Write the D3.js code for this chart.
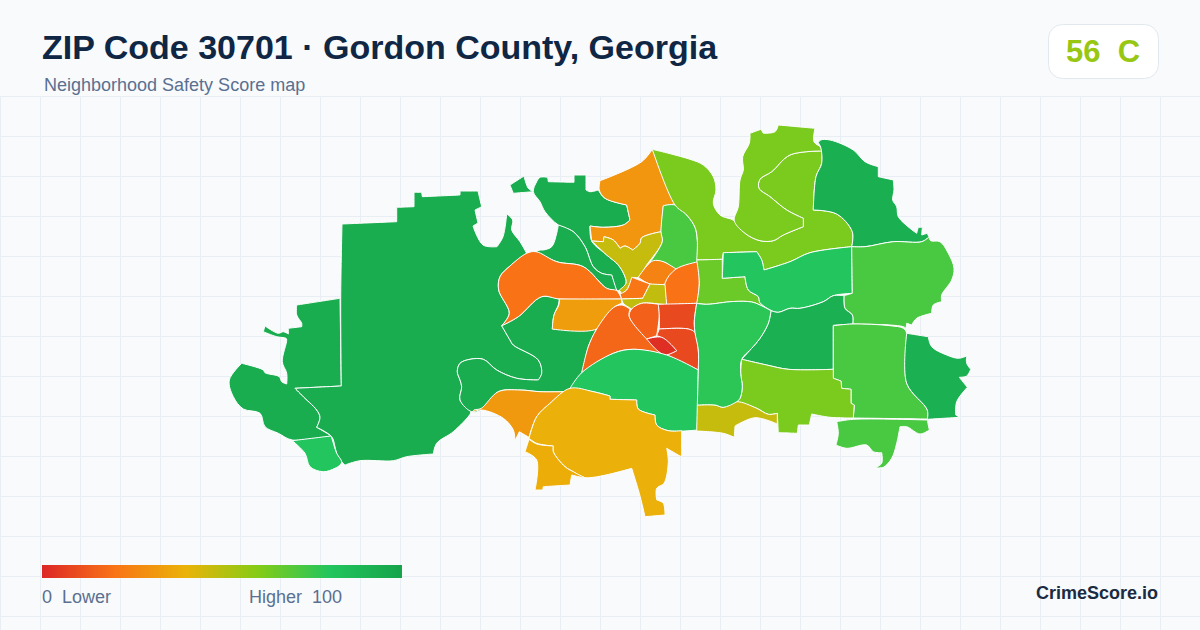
<!DOCTYPE html>
<html><head><meta charset="utf-8">
<script src="https://cdn.jsdelivr.net/npm/d3@7/dist/d3.min.js"></script>
<style>html,body{margin:0;padding:0;background:#f8fafc}svg{display:block}text{font-family:"Liberation Sans",Arial,sans-serif}</style>
</head><body><svg id="c" width="1200" height="630"></svg>
<script>
const scoreStops=[0,20,40,60,80,100];
const scoreColors=["#dc2626","#f97316","#eab308","#84cc16","#22c55e","#16a34a"];
const overallScore=56, overallGrade="C";
const titleText="ZIP Code 30701 · Gordon County, Georgia";
const subtitleText="Neighborhood Safety Score map";
const legendLabels=["0  Lower","Higher  100"];
const brandText="CrimeScore.io";

const ringW1=[[296.7,305],[340,298.3],[341.3,386],[295,388.3],[305,398.3],[316.7,410],[320,417.3],[316.7,427.3],[331.7,436],[292.3,440],[278.3,433.3],[265,426.7],[260,413.3],[243.3,409],[233.3,396.7],[229.3,380],[241.7,363.3],[263.3,370],[265,372.7],[279.3,376.7],[281.7,381.7],[286.7,384],[286.7,373.3],[282.3,361.7],[286.7,340],[286,338.3],[276.7,336.7],[263.3,331.7],[265,326],[278.3,333.3],[283.3,331.7],[288.3,334],[288.3,328.3],[301.7,326.7],[301.7,323.3],[296.7,315]];
const ringW2=[[342,224],[396.7,221.7],[396.7,207.3],[414,206.7],[414,192.3],[421.7,192.3],[422.3,196.7],[460,195],[460,191],[478,191],[481.7,206.7],[475,210],[478,223],[473,226],[483,245],[497,246.7],[503,236.7],[506.7,214],[512.7,220],[511.7,230],[520,241.7],[526.7,253.3],[510,266],[500,276.7],[498.7,290],[509.3,313.3],[501.7,325.7],[510,340],[513.3,345],[538.3,360],[541.7,373.3],[538.3,380],[516.7,378.3],[496.7,370],[483.3,359.3],[470,359.3],[460,363.3],[457.3,371.7],[460,380],[461.7,386.7],[460,400],[471,411],[470,414.3],[453.3,431.7],[436.7,443.3],[433.3,454],[406.7,456.7],[393.3,460.7],[360,460.7],[345,465],[341.7,461.7],[336.7,453.3],[335,446.7],[331.7,436.7],[316.7,427.3],[320,417.3],[316.7,410],[305,398.3],[295,388.3],[341.3,386],[340.7,298.3]];
const ringW3=[[501.7,325.7],[518.3,316.7],[541.7,296.7],[559.3,299.3],[558.3,305],[554,315],[552.3,329],[596.7,329],[588.3,346.7],[581.7,372.7],[570,388.3],[565,391.7],[563.3,391.7],[540,391.7],[520,390],[498.3,391.7],[481.7,410],[471.7,411.7],[460,400],[461.7,386.7],[460,380],[457.3,371.7],[460,363.3],[470,359.3],[483.3,359.3],[496.7,370],[516.7,378.3],[538.3,380],[541.7,373.3],[538.3,360],[513.3,345],[510,340]];
const ringS1=[[292.3,440.7],[330.7,436],[331.7,438],[336.7,453.3],[341.7,461.7],[340,465],[335,468.3],[323.3,471.7],[310,466.7],[305,453.3]];
const ringN0=[[510,185],[524,176],[528.3,188.3],[533.3,191.7],[513.3,193.3]];
const ringN1=[[533.3,191.7],[536.7,181.7],[540,177.3],[547.7,177.3],[548.3,181.7],[574,182.3],[574,175],[586,175],[586,190],[590,191.7],[598.3,190],[599.3,191.7],[605,198.3],[626.7,205],[630,220],[623.3,225],[603.3,227.3],[590,226],[591.7,241],[606.7,255],[618.3,265],[625,276.7],[626,283.3],[620,290.7],[616.7,290],[611.7,275],[601.7,273.3],[593.3,266.7],[585,246.7],[573.3,231.7],[558.3,225],[545,211.7],[540,201.7]];
const ringN2=[[558.3,225],[573.3,231.7],[585,246.7],[593.3,266.7],[601.7,273.3],[611.7,275],[616.7,290.7],[606.7,288.3],[583.3,266.7],[556.7,261.7],[536,251.7],[540,250],[543.3,250],[551.7,246.7],[556.7,233.3]];
const ringO1=[[536,251.7],[556.7,261.7],[583.3,266.7],[606.7,288.3],[616.7,290.7],[621.7,299],[560,299],[541.7,296.7],[518.3,316.7],[501.7,325.7],[509.3,313.3],[498.7,290],[500,276.7],[510,266],[526.7,253.3]];
const ringA1=[[559.5,299],[621.7,299],[621.7,303.3],[613.3,307.7],[596.7,329],[552.3,329],[554,315],[558.8,305]];
const ringT1=[[652.3,149.3],[675,204],[663.3,205.7],[661,231.7],[641.7,237.7],[640,243.3],[632.7,250],[625,246],[620,248.3],[613.3,240],[604,236.7],[603.3,241.7],[591.7,241],[590,226],[603.3,227.3],[623.3,225],[630,220],[626.7,205],[605,198.3],[599.3,190],[600,180.7],[641.7,161.7]];
const ringOl1=[[591.7,241],[603.3,241.7],[604,236.7],[613.3,240],[620,248.3],[625,246],[632.7,250],[640,243.3],[641.7,237.7],[661,231.7],[662.3,241.7],[646.7,265],[638.3,277.3],[632.7,277.3],[626.7,290],[621.7,294],[619.3,290],[626,283.3],[625,276.7],[618.3,265],[606.7,255]];
const ringG1=[[663.3,205.7],[675,205],[686.7,215],[695,227.3],[697.3,240],[698.3,261.7],[688.3,266.7],[676,269],[663.3,261.7],[653.3,261.7],[646.7,266.7],[662.3,241.7],[661,231.7]];
const ringO2=[[653.3,260.7],[663.3,261.7],[676,269],[666.7,283.3],[650,284],[638.3,277.3],[646.7,266]];
const ringO3=[[676,269],[698.3,261.7],[699.3,283.3],[697.3,303.3],[666.7,305],[665,283.3]];
const ringO4=[[631.7,277.3],[650,284],[642.7,298.3],[621.7,299],[620,294],[626.7,290]];
const ringOL2=[[650,284],[665,284.7],[666.7,305],[641.7,303.3],[631.7,309],[623.3,303.3],[621.7,299],[642.7,298.3]];
const ringC1=[[621.7,305],[630,309],[629.3,316.7],[646.7,338],[660,350],[666.7,355],[633.3,349.3],[613.3,353.3],[581.7,372.7],[588.3,346.7],[596.7,329],[613.3,307.7]];
const ringC2=[[631.7,309],[641.7,303.3],[658.3,304.3],[659.3,315],[656.7,335.7],[646.7,339],[629.3,316.7]];
const ringC3=[[658.3,304.3],[696.7,303.3],[694.3,321.7],[695,332.7],[688.3,329],[659.3,329],[659.3,315]];
const ringC4=[[659.3,329],[688.3,329],[695,332.7],[698.3,350],[698.3,370],[666.7,355],[676.7,350.7],[661.7,337.7],[656.7,335.7]];
const ringC5=[[646.7,339],[661.7,337.3],[676.7,350.7],[665,355],[656.7,350]];
const ringG2=[[581.7,372.7],[613.3,353.3],[633.3,349.3],[666.7,355],[698.3,370],[697.3,430],[668.3,430.7],[656.7,425],[655,415],[638.3,409],[636.7,400],[610,399.3],[610,396],[593.3,391.7],[570,388.3]];
const ringA2=[[498.3,391.7],[520,390],[540,391.7],[563.3,391.7],[550,403.3],[536.7,416.7],[529,437.3],[519.3,431.7],[515,440.7],[513.3,430],[503.3,418.3],[481.7,410],[472,412.5],[474,410],[481,408.5]];
const ringA3=[[570,388.3],[593.3,391.7],[610,396],[610,399.3],[636.7,400],[638.3,409],[655,415],[656.7,425],[668.3,430.7],[681.7,430.7],[681.7,456.7],[678.3,455],[666.7,448.3],[668.3,461.7],[664,483.3],[656.7,488.3],[656.7,500],[663.3,503.3],[665,515],[645,516.7],[639.3,493.3],[631.7,468.3],[585,477.7],[573.3,471.7],[565,466.7],[553.3,451.7],[553.3,446],[536.7,443.3],[529,438.3],[536.7,416.7],[550,403.3]];
const ringA4=[[529,439.3],[536.7,444],[553.3,446],[553.3,451.7],[565,466.7],[573.3,471.7],[584,477.3],[580,477],[571.7,475],[570,485],[543.3,486.7],[542.7,490],[535,490],[536.7,460],[525,451.7]];
const ringL1=[[652.3,149.3],[690,159.3],[703.3,165],[713.3,176.7],[716,190],[713.3,203.3],[720,215],[734.3,220.7],[745,233.3],[760,240.7],[773.3,240.7],[783.3,235],[803.3,226.7],[803.3,218.3],[786.7,210],[770,196.7],[759,188.3],[760,179.3],[771.7,171.7],[790,155],[821.7,151],[821.7,163.3],[816,176.7],[813.3,210],[836.7,214],[852.3,231.7],[851.7,246.7],[810,252.7],[790,261.7],[764,270],[761.7,260],[756.7,251.7],[723.3,252.7],[722.3,259.3],[696.7,260],[697.3,240],[695,227.3],[686.7,215],[675,205]];
const ringL2=[[734.3,220.7],[738.3,206.7],[740,180],[743.3,170],[742.7,156.7],[749.3,143.3],[750,133.3],[761,129.3],[763.3,133.3],[775,131.7],[778.3,125],[815,128.3],[814,141.7],[820.7,147.3],[821.7,151],[790,155],[771.7,171.7],[760,179.3],[759,188.3],[770,196.7],[786.7,210],[803.3,218.3],[803.3,226.7],[783.3,235],[773.3,240.7],[760,240.7],[745,233.3]];
const ringL4=[[696.7,260],[722.3,259.3],[722.3,278.3],[745,276.7],[748.3,290],[758.3,296.7],[760,302.7],[771,310],[760,305],[751.7,302],[733.3,301.5],[706.7,304.3],[696.7,303.3],[699.3,283.3]];
const ringG3=[[723.3,252.7],[756.7,251.7],[761.7,260],[764,270],[790,261.7],[810,252.7],[851.7,246.7],[852.3,293.3],[833.3,295.7],[823.3,301.7],[800,308.3],[790,308.3],[778.3,312.3],[771.7,310.7],[760,302.7],[758.3,296.7],[748.3,290],[745,276.7],[722.3,278.3]];
const ringD1=[[820.7,140],[830,140],[853.3,150],[865,161.7],[878.3,166.7],[878.3,176.7],[893.3,180],[894,190],[892.7,200],[896.7,206.7],[898.3,216.7],[910,228.3],[916.7,233.3],[918.3,227.3],[922.3,227.3],[921.7,235],[927.3,233.3],[929,237],[921.7,241.7],[893.3,241.7],[865,246.7],[851.7,246.7],[852.3,231.7],[836.7,214],[813.3,210],[816,176.7],[821.7,163.3],[820.7,147.3],[818.3,142.7]];
const ringM1=[[851.7,246.7],[865,246.7],[893.3,241.7],[921.7,241.7],[929,237],[930.7,240.7],[940,241.7],[948.3,253.3],[954,268.3],[951.7,280],[941.7,295],[941.7,301.7],[933.3,305],[931.7,313.3],[916.7,318.3],[911.7,325],[906.7,323.3],[906,328.3],[903.3,326.7],[890,325],[852.7,324],[852.3,315],[845,308.3],[844,295.7],[852.3,293.3]];
const ringD2=[[771,310.7],[778.3,312.3],[790,308.3],[800,308.3],[823.3,301.7],[833.3,295.7],[844,295.7],[845,308.3],[852.3,315],[852.7,324],[833.3,325.3],[833.3,369.3],[788.3,369.3],[766.7,365],[741.7,359.3],[751.7,348.3],[760,338.3],[768.3,323.3]];
const ringM2=[[833.3,325.7],[852.7,324],[890,325.7],[903.3,328.3],[906.7,333.3],[906.7,383.3],[927.3,410],[927.3,419],[853.3,418],[854.3,405],[851,403.3],[851,389.3],[841.7,388.3],[841,381],[833.3,378.3]];
const ringD3=[[906.7,333.3],[928.3,336.7],[931.7,346.7],[946.7,355],[958.3,358.3],[966.7,356],[966.7,363.3],[970.7,369.3],[966.7,376],[959.3,377.3],[967.3,387.3],[956.7,401.7],[955.7,415],[960,417.3],[927.3,419.3],[927.3,410],[906.7,383.3]];
const ringL5=[[741.7,359.3],[766.7,365],[788.3,369.3],[833.3,369.3],[833.3,378.3],[841,381],[841.7,388.3],[851,389.3],[851,403.3],[854.3,405],[853.3,418],[830,417.3],[811.7,414],[809.3,425],[798.3,425],[797.3,433.3],[778.3,432.7],[777.3,413.3],[768.3,414.3],[756.7,408.3],[736.7,401.7],[740,398.3],[742.3,386.7],[740.7,373.3]];
const ringOl2=[[697.3,405],[715,405],[723.3,407.3],[736.7,401.7],[756.7,408.3],[768.3,414.3],[777.3,413.3],[777.3,424],[755,417.7],[735,426],[734.3,437.3],[723.3,433.3],[696.7,431]];
const ringM3=[[696.7,303.4],[706.7,304.3],[733.3,301.5],[751.7,302],[760,305],[771,310.7],[768.3,323.3],[760,338.3],[751.7,348.3],[741.7,359.3],[740.7,373.3],[742.3,386.7],[740,398.3],[736.7,401.7],[723.3,407.3],[715,405],[697.3,405],[698.3,370],[698.3,350],[695,332.7],[694.3,321.7]];
const ringM4=[[836.7,421.7],[853.3,419.3],[927.3,420],[929.3,430],[920,434],[906.7,426.7],[900,426.7],[896.7,443.3],[891.7,458.3],[883.3,467.3],[875.7,467.7],[881.7,463.3],[881.7,452.7],[873.3,451.7],[866.7,445],[846.7,448.3],[836,445],[838.3,433.3]];

const zoneRings=[ringW1,ringW2,ringW3,ringS1,ringN0,ringN1,ringN2,ringO1,ringA1,ringT1,ringOl1,ringG1,ringO2,ringO3,ringO4,ringOL2,ringC1,ringC2,ringC3,ringC4,ringC5,ringG2,ringA2,ringA3,ringA4,ringL1,ringL2,ringL4,ringG3,ringD1,ringM1,ringD2,ringM2,ringD3,ringL5,ringOl2,ringM3,ringM4];
const zoneScores=[94,94,94,80,94,94,94,20,33,31,47,72,25,20,21,48,17,15,9,9,2,80,32,39,38,62,62,65,80,93,72,92,72,92,62,47,78,72];

const svg=d3.select("#c");
const W=1200,H=630;
const color=d3.scaleLinear().domain(scoreStops).range(scoreColors).interpolate(d3.interpolateRgb);
const mapX=d3.scaleLinear().domain([200,1000]).range([200,1000]);
const mapY=d3.scaleLinear().domain([100,540]).range([100,540]);

svg.append("rect").attr("width",W).attr("height",H).attr("fill","#f8fafc");
const grid=svg.append("g").attr("stroke","#e8eef4").attr("stroke-width",1);
grid.selectAll("line.v").data(d3.range(0,W+1,40)).join("line").attr("class","v")
  .attr("x1",d=>d+.5).attr("x2",d=>d+.5).attr("y1",97).attr("y2",H);
grid.selectAll("line.h").data(d3.range(97,H,40)).join("line").attr("class","h")
  .attr("x1",0).attr("x2",W).attr("y1",d=>d-.5).attr("y2",d=>d-.5);

// Sharp vertices are doubled so the Catmull-Rom curve keeps them as corners and only rounds gentle bends.
function keepCorners(ring){
  const n=ring.length,out=[];
  ring.forEach((p,i)=>{
    const a=ring[(i+n-1)%n],b=ring[(i+1)%n];
    const t=Math.abs(Math.atan2(p[1]-a[1],p[0]-a[0])-Math.atan2(b[1]-p[1],b[0]-p[0]));
    const turn=t>Math.PI?2*Math.PI-t:t;
    out.push(p);
    if(turn>1.05) out.push(p);
  });
  return out;
}
const ringPath=d3.line().x(p=>mapX(p[0])).y(p=>mapY(p[1])).curve(d3.curveCatmullRomClosed.alpha(0.5));
svg.append("g").selectAll("path").data(zoneRings).join("path")
  .attr("d",d=>ringPath(keepCorners(d)))
  .attr("fill",(d,i)=>color(zoneScores[i]))
  .attr("stroke","#ffffff").attr("stroke-width",1).attr("stroke-linejoin","round");

svg.append("text").attr("x",42).attr("y",59).attr("font-size",34).attr("font-weight",700).attr("fill","#0f2744").text(titleText);
svg.append("text").attr("x",44).attr("y",91).attr("font-size",18).attr("fill","#5a7090").attr("xml:space","preserve").text(subtitleText);

svg.append("rect").attr("x",1048.5).attr("y",24.5).attr("width",110).attr("height",54).attr("rx",14).attr("fill","#ffffff").attr("stroke","#e2e8f0");
svg.append("text").attr("x",1103).attr("y",62).attr("text-anchor","middle").attr("font-size",31).attr("font-weight",700).attr("fill",color(overallScore)).attr("xml:space","preserve").text(overallScore+"  "+overallGrade);

const defs=svg.append("defs");
const grad=defs.append("linearGradient").attr("id","lg");
grad.selectAll("stop").data(scoreStops).join("stop").attr("offset",d=>d+"%").attr("stop-color",d=>color(d));
const legendX=d3.scaleLinear().domain([0,100]).range([42,402]);
svg.append("rect").attr("x",legendX(0)).attr("y",565).attr("width",legendX(100)-legendX(0)).attr("height",13).attr("fill","url(#lg)");
svg.append("text").attr("x",42).attr("y",603).attr("font-size",18).attr("fill","#5a7090").attr("xml:space","preserve").text(legendLabels[0]);
svg.append("text").attr("x",249).attr("y",603).attr("font-size",18).attr("fill","#5a7090").attr("xml:space","preserve").text(legendLabels[1]);
svg.append("text").attr("x",1158).attr("y",599).attr("text-anchor","end").attr("font-size",18).attr("font-weight",700).attr("fill","#1a2b42").text(brandText);
</script></body></html>
